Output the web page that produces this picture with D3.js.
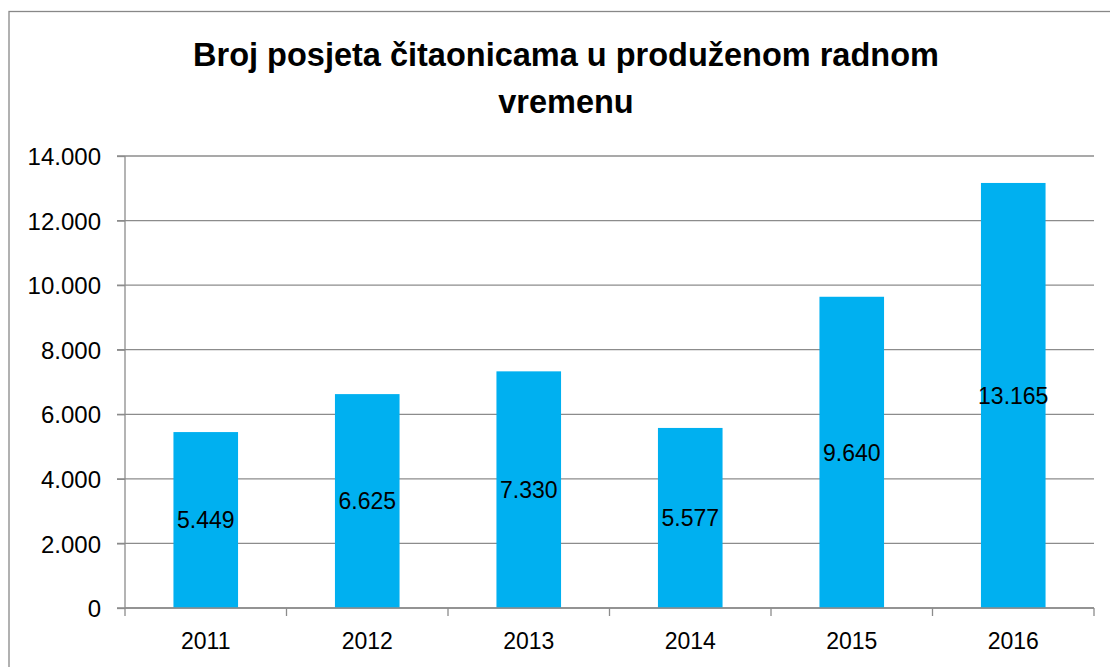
<!DOCTYPE html>
<html>
<head>
<meta charset="utf-8">
<script src="https://cdn.jsdelivr.net/npm/d3@7"></script>
<style>
  body { margin: 0; background: #fff; }
  text { font-family: "Liberation Sans", Arial, sans-serif; fill: #000; }
</style>
</head>
<body>
<svg id="chart" width="1110" height="667"></svg>
<script>
// data
var years = ["2011", "2012", "2013", "2014", "2015", "2016"];
var visits = [5449, 6625, 7330, 5577, 9640, 13165];
var yTicks = [0, 2000, 4000, 6000, 8000, 10000, 12000, 14000];
var titleLines = ["Broj posjeta čitaonicama u produženom radnom", "vremenu"];

var svg = d3.select("#chart"),
    margin = {top: 156, right: 16, bottom: 59, left: 125},
    width = 1110 - margin.left - margin.right,
    height = 667 - margin.top - margin.bottom;

var fmt = function(v) { return d3.format(",")(v).replace(/,/g, "."); };

// outer frame
svg.append("rect")
    .attr("x", 9).attr("y", 11.5)
    .attr("width", 1130).attr("height", 700)
    .attr("fill", "none")
    .attr("stroke", "#888")
    .attr("stroke-width", 1.3);

// title
svg.append("g").selectAll("text")
    .data(titleLines)
  .enter().append("text")
    .attr("x", 566)
    .attr("y", function(d, i) { return 66 + i * 47; })
    .attr("text-anchor", "middle")
    .attr("font-size", "32.5px")
    .attr("font-weight", "bold")
    .text(function(d) { return d; });

var g = svg.append("g").attr("transform", "translate(" + margin.left + "," + margin.top + ")");

var x = d3.scaleBand().domain(years).range([0, width]).paddingInner(0.6).paddingOuter(0.3);
var xb = d3.scaleBand().domain(years).range([0, width]);
var y = d3.scaleLinear().domain([0, 14000]).range([height, 0]);

// gridlines
g.append("g")
    .selectAll("line")
    .data(yTicks)
  .enter().append("line")
    .attr("x1", -8).attr("x2", width)
    .attr("y1", function(d) { return y(d); })
    .attr("y2", function(d) { return y(d); })
    .attr("stroke", "#8c8c8c")
    .attr("stroke-width", 1.3);

// bars
g.append("g")
    .selectAll("rect")
    .data(visits)
  .enter().append("rect")
    .attr("x", function(d, i) { return x(years[i]); })
    .attr("y", function(d) { return y(d); })
    .attr("width", x.bandwidth())
    .attr("height", function(d) { return height - y(d); })
    .attr("fill", "#00B0F0");

// value labels
g.append("g")
    .selectAll("text")
    .data(visits)
  .enter().append("text")
    .attr("x", function(d, i) { return x(years[i]) + x.bandwidth() / 2; })
    .attr("y", function(d) { return (y(d) + height) / 2; })
    .attr("dy", "0.36em")
    .attr("text-anchor", "middle")
    .attr("font-size", "23px")
    .text(function(d) { return fmt(d); });

// y axis
var yAxis = g.append("g")
    .call(d3.axisLeft(y).tickValues(yTicks).tickSize(8).tickPadding(16).tickFormat(fmt));
yAxis.selectAll("text").attr("font-size", "24px").attr("dy", "0.36em").style("font-family", "Liberation Sans, Arial, sans-serif");
yAxis.selectAll("line").attr("stroke", "#8c8c8c").attr("stroke-width", 1.3);
yAxis.select(".domain").attr("stroke", "#8c8c8c").attr("stroke-width", 1.3).attr("d", "M0," + height + "V0");

// x axis with ticks at category boundaries
var xg = g.append("g").attr("transform", "translate(0," + height + ")");
xg.append("line")
    .attr("x1", 0).attr("x2", width)
    .attr("stroke", "#8c8c8c").attr("stroke-width", 1.3);
xg.selectAll(".tick")
    .data(years.concat(["end"]))
  .enter().append("line")
    .attr("class", "tick")
    .attr("x1", function(d, i) { return i * xb.step(); })
    .attr("x2", function(d, i) { return i * xb.step(); })
    .attr("y1", 0).attr("y2", 8)
    .attr("stroke", "#8c8c8c").attr("stroke-width", 1.3);
xg.selectAll(".lbl")
    .data(years)
  .enter().append("text")
    .attr("class", "lbl")
    .attr("x", function(d) { return xb(d) + xb.bandwidth() / 2; })
    .attr("y", 41)
    .attr("text-anchor", "middle")
    .attr("font-size", "23px")
    .text(function(d) { return d; });
</script>
</body>
</html>
